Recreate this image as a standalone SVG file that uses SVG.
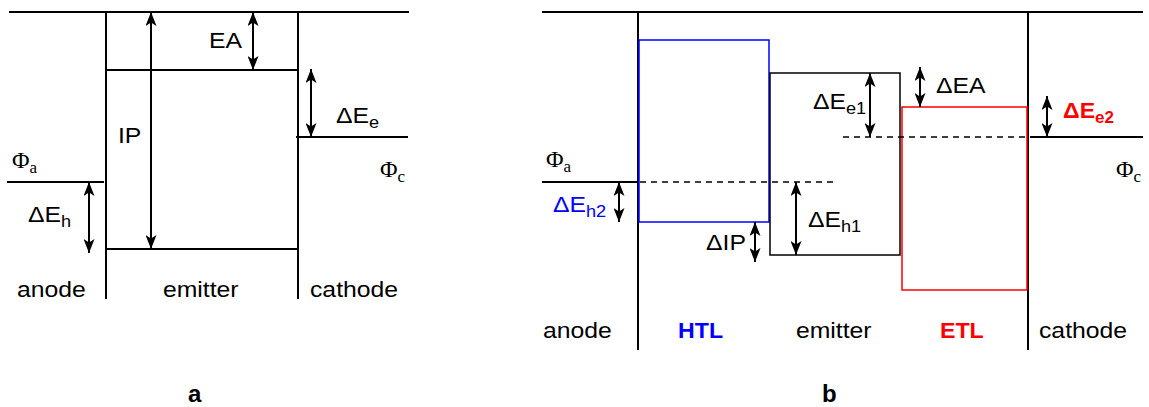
<svg xmlns="http://www.w3.org/2000/svg" width="1149" height="407" viewBox="0 0 1149 407">
<style>
.ln{stroke:#000;stroke-width:2;fill:none}
.box{stroke-width:1.5;fill:none}
.dash{stroke:#000;stroke-width:1.5;stroke-dasharray:6 5;fill:none}
.arr{stroke:#000;stroke-width:2;fill:none;marker-start:url(#ah);marker-end:url(#ah)}
.t{font-family:"Liberation Sans",Arial,sans-serif;font-size:22.5px;fill:#000}
.s{font-size:16.5px}
.phi{font-family:"Liberation Serif","Times New Roman",serif;font-size:24px;fill:#000}
.ps{font-size:17px}
.b{font-weight:bold}
.lab{font-size:24px}
</style>
<defs>
<marker id="ah" markerUnits="userSpaceOnUse" viewBox="0 0 14 11" markerWidth="14" markerHeight="11" refX="14" refY="5.5" orient="auto-start-reverse">
<path d="M0,0 L14,5.5 L0,11 L3.5,5.5 Z" fill="#000"/>
</marker>
</defs>

<g id="panel-a">
  <g id="a-levels">
    <line class="ln" x1="9" y1="12" x2="409" y2="12"/>
    <line class="ln" x1="106" y1="12" x2="106" y2="299"/>
    <line class="ln" x1="298" y1="12" x2="298" y2="299"/>
    <line class="ln" x1="106" y1="70" x2="298" y2="70"/>
    <line class="ln" x1="106" y1="249" x2="298" y2="249"/>
    <line class="ln" x1="296" y1="137" x2="408" y2="137"/>
    <line class="ln" x1="7" y1="182" x2="104" y2="182"/>
  </g>
  <g id="a-connectors">
    <line class="arr" x1="151" y1="12" x2="151" y2="249"/>
    <line class="arr" x1="253" y1="12" x2="253" y2="70"/>
    <line class="arr" x1="311" y1="69" x2="311" y2="137"/>
    <line class="arr" x1="89" y1="182" x2="89" y2="253"/>
  </g>
  <g id="a-labels">
    <text class="t" transform="translate(209 48) scale(1.1 1)">EA</text>
    <text class="t" transform="translate(118 143) scale(1.1 1)">IP</text>
    <text class="t" transform="translate(336 123) scale(1.1 1)">ΔE<tspan class="s" dy="5">e</tspan></text>
    <text class="t" transform="translate(28 222) scale(1.1 1)">ΔE<tspan class="s" dy="5">h</tspan></text>
    <text class="phi" x="12" y="168">Φ<tspan class="ps" dy="5">a</tspan></text>
    <text class="phi" x="380" y="177">Φ<tspan class="ps" dy="5">c</tspan></text>
    <text class="t" transform="translate(17 297) scale(1.1 1)">anode</text>
    <text class="t" transform="translate(163 297) scale(1.1 1)">emitter</text>
    <text class="t" transform="translate(310 297) scale(1.1 1)">cathode</text>
    <text class="t b lab" x="188" y="402">a</text>
  </g>
</g>

<g id="panel-b">
  <g id="b-electrodes">
    <line class="ln" x1="542" y1="12" x2="1143" y2="12"/>
    <line class="ln" x1="638" y1="12" x2="638" y2="350"/>
    <line class="ln" x1="1028" y1="12" x2="1028" y2="350"/>
    <line class="ln" x1="542" y1="182" x2="638" y2="182"/>
    <line class="ln" x1="1030" y1="137" x2="1143" y2="137"/>
  </g>
  <g id="htl"><rect class="box" x="639" y="40" width="130" height="182" stroke="#0000ff"/></g>
  <g id="emitter"><rect class="box" x="770" y="73" width="130" height="182" stroke="#000" stroke-width="1.3"/></g>
  <g id="etl"><rect class="box" x="902" y="107" width="125" height="183" stroke="#ff0000"/></g>
  <g id="b-connectors">
    <line class="dash" x1="640" y1="182" x2="833" y2="182"/>
    <line class="dash" x1="843" y1="137" x2="1025" y2="137"/>
    <line class="arr" x1="619" y1="182" x2="619" y2="222"/>
    <line class="arr" x1="755" y1="222" x2="755" y2="262"/>
    <line class="arr" x1="796" y1="182" x2="796" y2="255"/>
    <line class="arr" x1="870" y1="73" x2="870" y2="137"/>
    <line class="arr" x1="920" y1="67" x2="920" y2="107"/>
    <line class="arr" x1="1047" y1="96" x2="1047" y2="137"/>
  </g>
  <g id="b-labels">
    <text class="phi" x="546" y="167">Φ<tspan class="ps" dy="5">a</tspan></text>
    <text class="phi" x="1116" y="177">Φ<tspan class="ps" dy="5">c</tspan></text>
    <text class="t" style="fill:#0000ff" transform="translate(553 212) scale(1.1 1)">ΔE<tspan class="s" dy="5">h2</tspan></text>
    <text class="t" transform="translate(706 250) scale(1.1 1)">ΔIP</text>
    <text class="t" transform="translate(808 227) scale(1.1 1)">ΔE<tspan class="s" dy="5">h1</tspan></text>
    <text class="t" transform="translate(813 109) scale(1.1 1)">ΔE<tspan class="s" dy="5">e1</tspan></text>
    <text class="t" transform="translate(936 93) scale(1.1 1)">ΔEA</text>
    <text class="t b" style="fill:#ff0000" transform="translate(1063 118) scale(1.03 1)">ΔE<tspan class="s" dy="5">e2</tspan></text>
    <text class="t" transform="translate(543 338) scale(1.1 1)">anode</text>
    <text class="t b" style="fill:#0000ff" transform="translate(678 338) scale(1.03 1)">HTL</text>
    <text class="t" transform="translate(796 338) scale(1.1 1)">emitter</text>
    <text class="t b" style="fill:#ff0000" transform="translate(940 338) scale(1.03 1)">ETL</text>
    <text class="t" transform="translate(1039 338) scale(1.1 1)">cathode</text>
    <text class="t b lab" x="822" y="402">b</text>
  </g>
</g>
</svg>
